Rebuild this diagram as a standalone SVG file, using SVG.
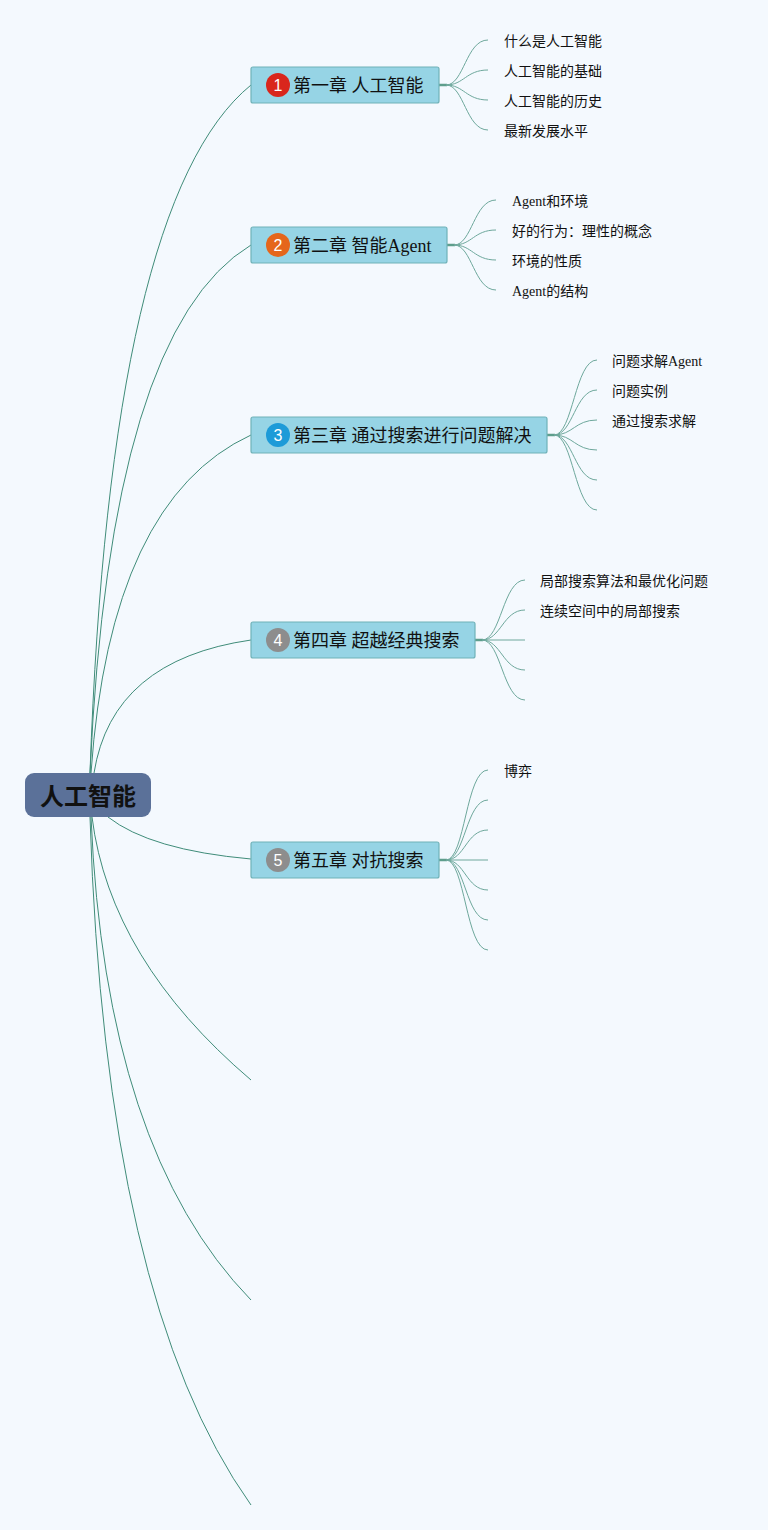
<svg xmlns="http://www.w3.org/2000/svg" width="768" height="1530" viewBox="0 0 768 1530">
<style>
.bg{fill:#f4f9fe}
.main{fill:none;stroke:#3f8c79;stroke-width:1}
.sub{fill:none;stroke:#6ea89c;stroke-width:1}
.stub{fill:none;stroke:#5e9e8c;stroke-width:2.5}
.chap rect{fill:#96d4e5;stroke:#6fb2b8;stroke-width:1.2}
.ct{font-family:"Liberation Serif","Noto Sans CJK SC",serif;font-size:18px;fill:#111}
.bt{font-family:"Liberation Sans","Noto Sans",sans-serif;font-size:16px;fill:#fff;text-anchor:middle}
.lt{font-family:"Liberation Serif","Noto Sans CJK SC",serif;font-size:14px;fill:#111}
.rt{font-family:"Liberation Sans","Noto Sans CJK SC",sans-serif;font-size:24px;font-weight:bold;fill:#111;text-anchor:middle}
</style>
<rect class="bg" x="0" y="0" width="768" height="1530"/>
<g id="connectors">
<path class="main" d="M90 773 Q110 200 251 85"/>
<path class="main" d="M90 773 Q110 330 251 245"/>
<path class="main" d="M91 773 Q110 500 251 435"/>
<path class="main" d="M94 773 Q112 660 251 640"/>
<path class="main" d="M108 817 Q150 850 251 859"/>
<path class="main" d="M92 817 Q110 960 251 1080"/>
<path class="main" d="M91 817 Q105 1150 251 1300"/>
<path class="main" d="M90 817 Q105 1300 251 1505"/>
<path class="stub" d="M439 85 H447"/>
<path class="sub" d="M446 85 C464 85 466 40 488 40"/>
<path class="sub" d="M446 85 C464 85 466 70 488 70"/>
<path class="sub" d="M446 85 C464 85 466 100 488 100"/>
<path class="sub" d="M446 85 C464 85 466 130 488 130"/>
<path class="stub" d="M447 245 H455"/>
<path class="sub" d="M454 245 C472 245 474 200 496 200"/>
<path class="sub" d="M454 245 C472 245 474 230 496 230"/>
<path class="sub" d="M454 245 C472 245 474 260 496 260"/>
<path class="sub" d="M454 245 C472 245 474 290 496 290"/>
<path class="stub" d="M547 435 H555"/>
<path class="sub" d="M554 435 C573 435 575 360 597 360"/>
<path class="sub" d="M554 435 C573 435 575 390 597 390"/>
<path class="sub" d="M554 435 C573 435 575 420 597 420"/>
<path class="sub" d="M554 435 C573 435 575 450 597 450"/>
<path class="sub" d="M554 435 C573 435 575 480 597 480"/>
<path class="sub" d="M554 435 C573 435 575 510 597 510"/>
<path class="stub" d="M475 640 H483"/>
<path class="sub" d="M482 640 C501 640 503 580 525 580"/>
<path class="sub" d="M482 640 C501 640 503 610 525 610"/>
<path class="sub" d="M482 640 H525"/>
<path class="sub" d="M482 640 C501 640 503 670 525 670"/>
<path class="sub" d="M482 640 C501 640 503 700 525 700"/>
<path class="stub" d="M439 860 H447"/>
<path class="sub" d="M446 860 C465 860 466 770 488 770"/>
<path class="sub" d="M446 860 C465 860 466 800 488 800"/>
<path class="sub" d="M446 860 C465 860 466 830 488 830"/>
<path class="sub" d="M446 860 H488"/>
<path class="sub" d="M446 860 C465 860 466 890 488 890"/>
<path class="sub" d="M446 860 C465 860 466 920 488 920"/>
<path class="sub" d="M446 860 C465 860 466 950 488 950"/>
</g>
<g id="root">
<rect x="25" y="773" width="126" height="44" rx="9" fill="#5b7199"/>
<text class="rt" x="88" y="805">人工智能</text>
</g>
<g id="ch1" class="chap">
<rect x="251" y="67" width="188" height="36" rx="2"/>
<circle cx="278" cy="85" r="12" fill="#d9261c"/>
<text class="bt" x="278" y="91">1</text>
<text class="ct" x="293" y="92">第一章 人工智能</text>
</g>
<g id="ch2" class="chap">
<rect x="251" y="227" width="196" height="36" rx="2"/>
<circle cx="278" cy="245" r="12" fill="#e5661b"/>
<text class="bt" x="278" y="251">2</text>
<text class="ct" x="293" y="252">第二章 智能Agent</text>
</g>
<g id="ch3" class="chap">
<rect x="251" y="417" width="296" height="36" rx="2"/>
<circle cx="278" cy="435" r="12" fill="#1d9bd8"/>
<text class="bt" x="278" y="441">3</text>
<text class="ct" x="293" y="442">第三章 通过搜索进行问题解决</text>
</g>
<g id="ch4" class="chap">
<rect x="251" y="622" width="224" height="36" rx="2"/>
<circle cx="278" cy="640" r="12" fill="#8d8d8d"/>
<text class="bt" x="278" y="646">4</text>
<text class="ct" x="293" y="647">第四章 超越经典搜索</text>
</g>
<g id="ch5" class="chap">
<rect x="251" y="842" width="188" height="36" rx="2"/>
<circle cx="278" cy="860" r="12" fill="#8d8d8d"/>
<text class="bt" x="278" y="866">5</text>
<text class="ct" x="293" y="867">第五章 对抗搜索</text>
</g>
<g id="ch1-items">
<text class="lt" x="504" y="46">什么是人工智能</text>
<text class="lt" x="504" y="76">人工智能的基础</text>
<text class="lt" x="504" y="106">人工智能的历史</text>
<text class="lt" x="504" y="136">最新发展水平</text>
</g>
<g id="ch2-items">
<text class="lt" x="512" y="206">Agent和环境</text>
<text class="lt" x="512" y="236">好的行为：理性的概念</text>
<text class="lt" x="512" y="266">环境的性质</text>
<text class="lt" x="512" y="296">Agent的结构</text>
</g>
<g id="ch3-items">
<text class="lt" x="612" y="366">问题求解Agent</text>
<text class="lt" x="612" y="396">问题实例</text>
<text class="lt" x="612" y="426">通过搜索求解</text>
</g>
<g id="ch4-items">
<text class="lt" x="540" y="586">局部搜索算法和最优化问题</text>
<text class="lt" x="540" y="616">连续空间中的局部搜索</text>
</g>
<g id="ch5-items">
<text class="lt" x="504" y="776">博弈</text>
</g>
</svg>
